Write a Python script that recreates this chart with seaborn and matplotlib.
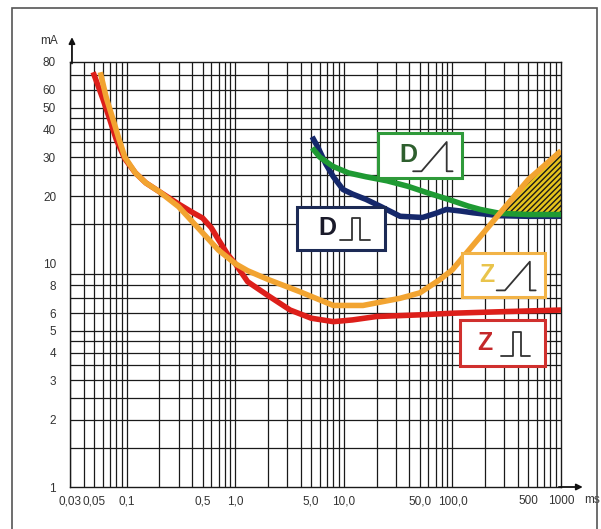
import numpy as np
import pandas as pd
import seaborn as sns
import matplotlib.pyplot as plt
from matplotlib.patches import Rectangle

# curve values (x in ms, y in mA)
z_pulse_x = [0.049, 0.06, 0.07, 0.08, 0.096, 0.12, 0.15, 0.2, 0.3, 0.4, 0.5, 0.6, 0.7, 0.85,
             1.0, 1.3, 2.0, 3.2, 5.0, 8.0, 12, 20, 50, 100, 300, 1000]
z_pulse_y = [72, 55, 44, 36, 29.5, 25.5, 23, 21, 18.5, 17, 16, 14.5, 12.8, 11,
             10, 8.3, 7.2, 6.2, 5.7, 5.5, 5.6, 5.8, 5.9, 6.0, 6.1, 6.2]

z_ramp_x = [0.057, 0.065, 0.075, 0.085, 0.096, 0.12, 0.15, 0.2, 0.3, 0.47, 0.7, 1.0, 1.3,
            2.0, 3.9, 8.0, 15, 33, 50, 77, 100, 180, 273, 500, 1000]
z_ramp_y = [72, 55, 44, 36, 30, 25.5, 23, 21, 18, 14.2, 11.5, 10, 9.3,
            8.5, 7.5, 6.5, 6.5, 7.0, 7.4, 8.5, 9.4, 13.2, 16.8, 23.8, 32]

d_ramp_x = [5.1, 6, 7.9, 11, 16, 25, 39, 60, 95, 140, 180, 273, 500, 1000]
d_ramp_y = [33, 30, 27.3, 25.5, 24.5, 23.5, 22.2, 20.7, 19.3, 18.1, 17.5, 16.8, 16.6, 16.6]

d_pulse_x = [5.1, 5.8, 6.8, 8.0, 9.8, 12, 16, 22, 33, 53, 70, 88, 120, 155, 273, 500, 1000]
d_pulse_y = [37, 33, 28, 24.5, 21.5, 20.5, 19.4, 18, 16.3, 16.1, 16.8, 17.5, 17.2, 16.9, 16.4, 16.3, 16.3]

x_ticks = [0.03, 0.05, 0.1, 0.5, 1, 5, 10, 50, 100, 500, 1000]
x_labels = ["0,03", "0,05", "0,1", "0,5", "1,0", "5,0", "10,0", "50,0", "100,0", "500", "1000"]
y_ticks = [1, 2, 3, 4, 5, 6, 8, 10, 20, 30, 40, 50, 60, 80]
y_grid = [1.5, 2, 2.5, 3, 3.5, 4, 4.5, 5, 6, 7, 8, 9, 15, 20, 25, 30, 35, 40, 45, 50, 60, 70]

colors = {"Z pulse": "#dd1f1a", "Z ramp": "#f2a431", "D pulse": "#15286b", "D ramp": "#1f9a33"}

frames = []
for name, xs, ys in [("Z pulse", z_pulse_x, z_pulse_y), ("Z ramp", z_ramp_x, z_ramp_y),
                     ("D pulse", d_pulse_x, d_pulse_y), ("D ramp", d_ramp_x, d_ramp_y)]:
    frames.append(pd.DataFrame({"ms": xs, "mA": ys, "curve": name}))
df = pd.concat(frames, ignore_index=True)

sns.set_style("white")
plt.rcParams["font.family"] = ["Liberation Sans", "DejaVu Sans"]

fig = plt.figure(figsize=(6.01, 5.29), dpi=100)
ax = fig.add_axes([70 / 601, 42 / 529, 491 / 601, 425 / 529])

# outer frame of the picture
fig.add_artist(Rectangle((12 / 601, -0.01), 585 / 601, 1 - 8 / 529 + 0.01, transform=fig.transFigure,
                         fill=False, edgecolor="#555555", lw=1.2))

ax.set_xscale("log")
ax.set_yscale("log")
ax.set_xlim(0.03, 1000)
ax.set_ylim(1, 80)

# dense graph-paper grid
xminor = [m * 10.0 ** e for e in range(-2, 3) for m in range(1, 10)
          if 0.03 <= m * 10.0 ** e <= 1000]
for xv in xminor:
    ax.axvline(xv, color="#1a1a1a", lw=0.9, zorder=1)
for yv in y_grid:
    ax.axhline(yv, color="#1a1a1a", lw=0.9, zorder=1)

# hatched zone between Z ramp and D ramp
both = pd.merge(pd.DataFrame({"ms": z_ramp_x, "z": z_ramp_y}),
                pd.DataFrame({"ms": d_ramp_x, "d": d_ramp_y}), on="ms")
both = both[both["z"] >= both["d"]]
ax.fill_between(both["ms"], both["d"], both["z"], facecolor="#e6c41c", edgecolor="#1a1a1a",
                hatch="//////", lw=0, zorder=2)

for name in ["D pulse", "D ramp", "Z pulse", "Z ramp"]:
    sns.lineplot(data=df[df["curve"] == name], x="ms", y="mA", color=colors[name], lw=4.0,
                 estimator=None, sort=False, ax=ax, zorder=3, solid_capstyle="butt")

ax.set_xlabel("")
ax.set_ylabel("")
ax.set_xticks(x_ticks)
ax.set_xticklabels(x_labels)
ax.set_yticks(y_ticks)
ax.set_yticklabels([str(v) for v in y_ticks])
ax.minorticks_off()
ax.tick_params(axis="x", direction="inout", length=8, width=1, colors="#222222", labelsize=8.5, pad=2)
ax.tick_params(axis="y", direction="out", length=7, width=1, colors="#222222", labelsize=8.5, pad=3)
ax.tick_params(axis="both", labelcolor="#333333")
for sp in ax.spines.values():
    sp.set_color("#1a1a1a")
    sp.set_linewidth(1.0)

# axis arrows and units
ax.annotate("", xy=(0.004, 1.065), xytext=(0.004, 0.99), xycoords="axes fraction",
            arrowprops=dict(arrowstyle="-|>", color="#111111", lw=1.3, mutation_scale=9), annotation_clip=False)
ax.annotate("", xy=(1.05, 0.0), xytext=(0.99, 0.0), xycoords="axes fraction",
            arrowprops=dict(arrowstyle="-|>", color="#111111", lw=1.3, mutation_scale=9), annotation_clip=False)
ax.text(-0.06, 1.05, "mA", transform=ax.transAxes, fontsize=8.5, color="#333333", va="center")
ax.text(1.048, -0.031, "ms", transform=ax.transAxes, fontsize=8.5, color="#333333", va="center")


def badge(x0, y0, w, h, letter, kind, edge, tcolor, lx):
    ax.add_patch(Rectangle((x0, y0), w, h, transform=ax.transAxes, facecolor="white",
                           edgecolor=edge, lw=2.2, zorder=5))
    ax.text(x0 + lx * w, y0 + 0.5 * h, letter, transform=ax.transAxes, fontsize=18, fontweight="bold",
            color=tcolor, ha="center", va="center", zorder=6)
    if kind == "ramp":
        gx = [0.42, 0.52, 0.82, 0.82, 0.89]
        gy = [0.15, 0.15, 0.80, 0.15, 0.15]
    else:
        gx = [0.49, 0.62, 0.62, 0.72, 0.72, 0.83]
        gy = [0.22, 0.22, 0.74, 0.74, 0.22, 0.22]
    ax.plot([x0 + g * w for g in gx], [y0 + g * h for g in gy], transform=ax.transAxes,
            color="#333333", lw=1.3, zorder=6)


badge(0.627, 0.727, 0.171, 0.106, "D", "ramp", "#2f9a3a", "#2e5f2e", 0.36)
badge(0.462, 0.558, 0.180, 0.101, "D", "pulse", "#1c2a55", "#1a1a2a", 0.34)
badge(0.798, 0.447, 0.169, 0.104, "Z", "ramp", "#f2b347", "#e9c44c", 0.30)
badge(0.794, 0.285, 0.173, 0.108, "Z", "pulse", "#d0302e", "#c4282a", 0.30)

fig.savefig("out.png", dpi=100)
